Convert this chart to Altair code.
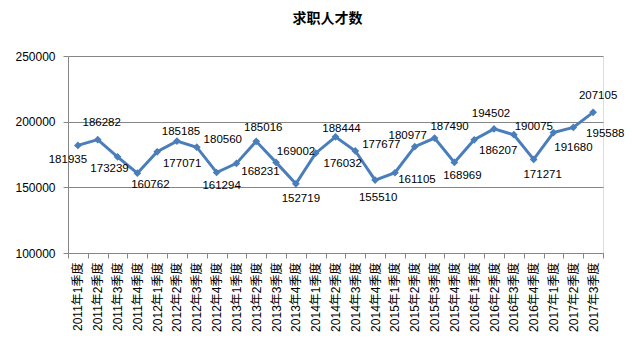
import altair as alt
import pandas as pd

quarters = [
    "2011年1季度", "2011年2季度", "2011年3季度", "2011年4季度",
    "2012年1季度", "2012年2季度", "2012年3季度", "2012年4季度",
    "2013年1季度", "2013年2季度", "2013年3季度", "2013年4季度",
    "2014年1季度", "2014年2季度", "2014年3季度", "2014年4季度",
    "2015年1季度", "2015年2季度", "2015年3季度", "2015年4季度",
    "2016年1季度", "2016年2季度", "2016年3季度", "2016年4季度",
    "2017年1季度", "2017年2季度", "2017年3季度",
]
applicants = [
    181935, 186282, 173239, 160762,
    177071, 185185, 180560, 161294,
    168231, 185016, 169002, 152719,
    176032, 188444, 177677, 155510,
    161105, 180977, 187490, 168969,
    186207, 194502, 190075, 171271,
    191680, 195588, 207105,
]
y_ticks = [100000, 150000, 200000, 250000]

# label placement offsets (pixels, style only)
label_dx = [-10, 4, -8, 13, 25, 4, 26, 5, 24, 7, 20, 5, 27, 6, 26, 3,
            22, -7, 15, 8, 24, -3, 20, 9, 20, 32, 5]
label_dy = [15, -17, 12, 12, 12, -9, -7, 13, 9, -13, -10, 15, 11, -8, -6, 18,
            7, -11, -11, 14, 11, -15, -8, 16, 15, 7, -16]

df = pd.DataFrame({
    "quarter": quarters,
    "value": applicants,
    "idx": list(range(len(quarters))),
})

GRID = "#868686"
BLUE = "#4A7EBB"

x_enc = alt.X(
    "quarter:N",
    sort=quarters,
    scale=alt.Scale(type="band", paddingInner=0, paddingOuter=0),
    axis=alt.Axis(
        title=None, labelAngle=-90, tickBand="extent", grid=False,
        labelFont="Liberation Sans, Noto Sans CJK SC", labelFontSize=12,
        labelColor="black", domainColor=GRID, tickColor=GRID, tickSize=5,
        labelPadding=4,
    ),
)
y_enc = alt.Y(
    "value:Q",
    scale=alt.Scale(domain=[100000, 250000], nice=False, zero=False),
    axis=alt.Axis(
        title=None, values=y_ticks, format="d", grid=True, gridColor=GRID,
        domainColor=GRID, tickColor=GRID, tickSize=5,
        labelFont="Liberation Sans", labelFontSize=12, labelColor="black",
        labelPadding=8,
    ),
)

base = alt.Chart(df).encode(x=x_enc, y=y_enc)

line = base.mark_line(color=BLUE, strokeWidth=3)
pts = base.mark_point(shape="diamond", filled=True, size=60, color=BLUE, opacity=1)

layers = [line, pts]
for i in range(len(quarters)):
    layers.append(
        base.transform_filter(alt.datum.idx == i).mark_text(
            dx=label_dx[i], dy=label_dy[i], align="center", baseline="middle",
            font="Liberation Sans", fontSize=11.5, color="black",
        ).encode(text=alt.Text("value:Q", format="d"))
    )

chart = alt.layer(*layers).properties(
    width=535,
    height=197,
    title=alt.TitleParams(
        "求职人才数", font="Noto Sans CJK SC", fontSize=14, fontWeight="bold",
        anchor="middle", frame="group", offset=24, dx=-8, color="black",
    ),
    autosize=alt.AutoSizeParams(type="none"),
    padding={"left": 68, "top": 56, "right": 29, "bottom": 98},
).configure_view(stroke=None).configure(background="white")

chart.save("out.html", embed_options={"renderer": "svg", "actions": False})
